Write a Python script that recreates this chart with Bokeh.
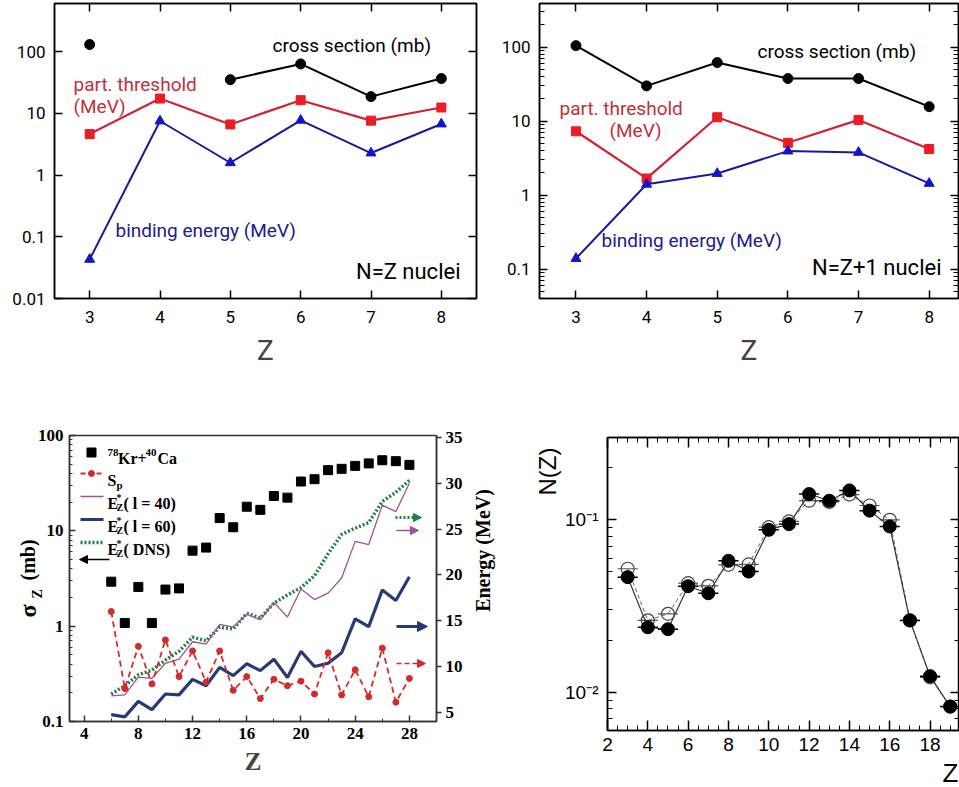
import math
from bokeh.plotting import figure
from bokeh.layouts import column, row
from bokeh.core.properties import value
from bokeh.models import (Range1d, LinearAxis, LogAxis, LinearScale, FixedTicker,
                          Label, Arrow, NormalHead)
from bokeh.embed import file_html
from bokeh.resources import INLINE

nan = float("nan")

# ---------------- N=Z nuclei ----------------
z_light = [3, 4, 5, 6, 7, 8]
nz_cross_mb = [130, nan, 35, 63, 18.6, 36.5]
nz_threshold_mev = [4.6, 17.3, 6.6, 16.3, 7.6, 12.4]
nz_binding_mev = [0.043, 7.5, 1.58, 7.7, 2.27, 6.7]

# ---------------- N=Z+1 nuclei ----------------
nz1_cross_mb = [105, 30, 62, 37.7, 37.7, 15.7]
nz1_threshold_mev = [7.3, 1.68, 11.3, 5.1, 10.4, 4.2]
nz1_binding_mev = [0.139, 1.40, 1.96, 3.94, 3.78, 1.44]

# ---------------- 78Kr + 40Ca ----------------
z_kr = list(range(6, 29))
sigma_z_mb = [2.93, 1.08, 2.58, 1.08, 2.42, 2.49, 6.2, 6.67, 13.6, 10.9, 17.9, 16.6,
              23.2, 22.3, 32.9, 34.8, 43.3, 44.7, 48, 51, 55, 53.8, 49.2]
sp_mev = [16.0, 7.6, 12.2, 8.1, 12.9, 8.9, 11.7, 8.3, 11.7, 7.4, 8.9, 6.5,
          8.6, 7.9, 8.4, 7.0, 11.5, 6.9, 9.65, 6.7, 12.0, 6.1, 8.7]
ex_l40_mev = [6.8, 6.9, 8.85, 8.7, 10.35, 10.8, 12.7, 12.45, 14.6, 14.3, 15.7, 15.1,
              17.0, 15.4, 18.45, 17.3, 18.0, 19.65, 23.65, 23.3, 27.6, 26.9, 30.0]
ex_l60_mev = [4.75, 4.5, 6.2, 5.3, 7.0, 6.9, 8.6, 7.9, 9.9, 9.0, 10.3, 9.55,
              10.8, 8.8, 11.65, 10.0, 10.35, 11.5, 15.2, 14.35, 18.35, 17.2, 19.8]
ex_dns_mev = [7.0, 7.9, 9.1, 9.6, 10.7, 11.65, 13.2, 12.8, 14.3, 14.1, 15.8, 15.3,
              16.9, 17.8, 18.6, 19.9, 22.3, 24.4, 25.1, 25.7, 28.0, 29.0, 30.3]

# ---------------- N(Z) distribution ----------------
z_dist = list(range(3, 20))
nz_filled = [0.0465, 0.0238, 0.0232, 0.0412, 0.0375, 0.0578, 0.0501, 0.0875, 0.0944,
             0.141, 0.129, 0.148, 0.113, 0.0915, 0.0261, 0.0124, 0.00826]
nz_open = [0.052, 0.0261, 0.0285, 0.0429, 0.0414, 0.0548, 0.0551, 0.0906, 0.0978,
           0.129, 0.127, 0.140, 0.121, 0.100, 0.0261, 0.0122, 0.00826]

# ---------------- ticks ----------------
decade_ticks = [0.01, 0.1, 1, 10, 100]
decade_labels = ["0.01", "0.1", "1", "10", "100"]
kr_sigma_ticks = [0.1, 1, 10, 100]
kr_sigma_labels = ["0.1", "1", "10", "100"]
kr_z_ticks = [4, 8, 12, 16, 20, 24, 28]
kr_energy_ticks = [5, 10, 15, 20, 25, 30, 35]
dist_z_ticks = [2, 4, 6, 8, 10, 12, 14, 16, 18]
dist_y_ticks = [0.01, 0.1]
dist_y_labels = ["10\u207b\u00b2", "10\u207b\u00b9"]

SANS = "Roboto"
SERIF = "Liberation Serif"
ARIAL = "Liberation Sans"


def log_minor(lo, hi):
    out = []
    for k in range(-4, 4):
        for m in range(2, 10):
            v = m * 10.0 ** k
            if lo <= v <= hi:
                out.append(v)
    return out


def style(ax, font, size, bold=False, tick_in=7, tick_out=0, minor_in=0, minor_out=0,
          standoff=8, labels=True, color="black", lw=1.5):
    ax.axis_line_color = color
    ax.axis_line_width = lw
    ax.major_tick_line_color = color
    ax.major_tick_line_width = lw
    ax.minor_tick_line_color = color if (minor_in or minor_out) else None
    ax.minor_tick_line_width = 1
    ax.major_tick_in = tick_in
    ax.major_tick_out = tick_out
    ax.minor_tick_in = minor_in
    ax.minor_tick_out = minor_out
    ax.major_label_text_font = font
    ax.major_label_text_font_style = "bold" if bold else "normal"
    if labels:
        ax.major_label_text_color = "black"
        ax.major_label_text_font_size = f"{size}px"
        ax.major_label_standoff = standoff
    else:
        # tick-only axis: labels are not painted
        ax.major_label_text_color = None
        ax.major_label_text_font_size = "1px"
        ax.major_label_standoff = 0
        ax.axis_label = None


def mapper(left, top, width, height, xr, yr, ylog):
    """Pixel position on the page -> data coordinates of a frame."""
    def fx(px):
        return xr[0] + (px - left) / width * (xr[1] - xr[0])

    def fy(py):
        t = (top + height - py) / height
        if ylog:
            a, b = math.log10(yr[0]), math.log10(yr[1])
            return 10 ** (a + t * (b - a))
        return yr[0] + t * (yr[1] - yr[0])
    return fx, fy


def put(p, text, x, y, font, size, color="black", bold=False, align="left",
        baseline="middle", angle=0.0, y_range_name="default"):
    p.add_layout(Label(x=x, y=y, text=text, text_font=font, text_font_size=f"{size}px",
                       text_color=color, text_font_style="bold" if bold else "normal",
                       text_align=align, text_baseline=baseline, angle=angle,
                       y_range_name=y_range_name))


def margin_text(p, text, x, y, font, size, color="black", bold=False, align="left",
                angle=0.0, y_range_name="default"):
    """Text that sits in the plot margin (drawn on the overlay level)."""
    p.text(x=[x], y=[y], text=[text], angle=angle, text_font=value(font),
           text_font_size=value(f"{size}px"),
           text_font_style="bold" if bold else "normal", text_color=color,
           text_align=align, text_baseline="middle", level="overlay",
           y_range_name=y_range_name)


def base_fig(width, height, xr, yr, left, right, top, bottom, **kw):
    p = figure(width=width, height=height, x_range=Range1d(*xr), y_range=Range1d(*yr),
               y_axis_type="log", output_backend="svg", toolbar_location=None,
               min_border_left=left, min_border_right=right, min_border_top=top,
               min_border_bottom=bottom, background_fill_color="white",
               border_fill_color="white", outline_line_color="black",
               outline_line_width=1.5, **kw)
    p.grid.visible = False
    return p


RED_LINE = "#cf2433"
RED_MARK = "#ec1c24"
RED_TEXT = "#c0303c"
BLUE_LINE = "#1a1a96"
BLUE_MARK = "#1414c8"
BLUE_TEXT = "#20208a"


def light_panel(width, left, right, xr, yr, cross, thr, bind, minor):
    p = base_fig(width, 380, xr, yr, left, right, 3, 82)
    bottom_ax = p.below[0]
    left_ax = p.left[0]
    bottom_ax.ticker = FixedTicker(ticks=z_light)
    style(bottom_ax, SANS, 17, tick_in=8, standoff=12)
    bottom_ax.axis_label = "Z"
    bottom_ax.axis_label_text_font = SANS
    bottom_ax.axis_label_text_font_size = "28px"
    bottom_ax.axis_label_text_font_style = "normal"
    bottom_ax.axis_label_standoff = 8
    minors = log_minor(*yr) if minor else []
    left_ax.ticker = FixedTicker(ticks=decade_ticks, minor_ticks=minors)
    left_ax.major_label_overrides = dict(zip(decade_ticks, decade_labels))
    style(left_ax, SANS, 17, tick_in=8, minor_in=5 if minor else 0, standoff=9)

    top_ax = LinearAxis(ticker=FixedTicker(ticks=z_light))
    style(top_ax, SANS, 1, tick_in=8, labels=False)
    p.add_layout(top_ax, "above")
    right_ax = LogAxis(ticker=FixedTicker(ticks=decade_ticks, minor_ticks=minors))
    style(right_ax, SANS, 1, tick_in=8, minor_in=5 if minor else 0, labels=False)
    p.add_layout(right_ax, "right")

    p.line(z_light, cross, color="black", line_width=2)
    p.scatter(z_light, cross, marker="circle", size=10, color="black")
    p.line(z_light, thr, color=RED_LINE, line_width=2.2)
    p.scatter(z_light, thr, marker="square", size=9, color=RED_MARK)
    p.line(z_light, bind, color=BLUE_LINE, line_width=2)
    p.scatter(z_light, bind, marker="triangle", size=10, color=BLUE_MARK)
    return p


# -------- upper left --------
p1 = light_panel(480, 54, 4, (2.5, 8.5), (0.01, 600), nz_cross_mb, nz_threshold_mev,
                 nz_binding_mev, False)
fx, fy = mapper(54, 3, 422, 295, (2.5, 8.5), (0.01, 600), True)
put(p1, "cross section (mb)", fx(272), fy(45), SANS, 19)
put(p1, "part. threshold", fx(73), fy(84), SANS, 19, color=RED_TEXT)
put(p1, "(MeV)", fx(73), fy(106), SANS, 19, color=RED_TEXT)
put(p1, "binding energy (MeV)", fx(115), fy(230), SANS, 19, color=BLUE_TEXT)
put(p1, "N=Z nuclei", fx(460), fy(271), SANS, 22, align="right")

# -------- upper right --------
xr2, yr2 = (2.484, 8.415), (0.04, 390)
p2 = light_panel(479, 59, 1, xr2, yr2, nz1_cross_mb, nz1_threshold_mev,
                 nz1_binding_mev, True)
fx, fy = mapper(539, 3, 419, 295, xr2, yr2, True)
put(p2, "cross section (mb)", fx(757), fy(51), SANS, 19)
put(p2, "part. threshold", fx(559), fy(108), SANS, 19, color=RED_TEXT)
put(p2, "(MeV)", fx(609), fy(130), SANS, 19, color=RED_TEXT)
put(p2, "binding energy (MeV)", fx(601), fy(240), SANS, 19, color=BLUE_TEXT)
put(p2, "N=Z+1 nuclei", fx(941), fy(267), SANS, 22, align="right")

# -------- lower left: 78Kr + 40Ca --------
xr3, yr3, er3 = (2.92, 30.0), (0.1, 100), (4.0, 35.2)
p3 = base_fig(500, 407, xr3, yr3, 69, 64, 55, 66,
              extra_y_ranges={"energy": Range1d(*er3)},
              extra_y_scales={"energy": LinearScale()})
p3.outline_line_color = "#333333"
ax = p3.below[0]
ax.ticker = FixedTicker(ticks=kr_z_ticks, minor_ticks=list(range(4, 30, 2)))
style(ax, SERIF, 17, bold=True, tick_in=6, minor_in=3, standoff=6, color="#333333")
ax.axis_label = "Z"
ax.axis_label_text_font = SERIF
ax.axis_label_text_font_size = "25px"
ax.axis_label_text_font_style = "bold"
ax.axis_label_standoff = 6
ax = p3.left[0]
ax.ticker = FixedTicker(ticks=kr_sigma_ticks, minor_ticks=log_minor(*yr3))
ax.major_label_overrides = dict(zip(kr_sigma_ticks, kr_sigma_labels))
style(ax, SERIF, 17, bold=True, tick_in=6, minor_in=3, standoff=6, color="#333333")
eax = LinearAxis(y_range_name="energy", ticker=FixedTicker(ticks=kr_energy_ticks))
style(eax, SERIF, 17, bold=True, tick_in=0, tick_out=5, standoff=4, color="#333333")
p3.add_layout(eax, "right")

RED3 = "#d42a2a"
PURPLE3 = "#a0509c"
NAVY3 = "#263a78"
GREEN3 = "#1f8040"

p3.scatter(z_kr, sigma_z_mb, marker="square", size=9, color="black")
p3.line(z_kr, ex_dns_mev, y_range_name="energy", color=GREEN3, line_width=3.5,
        line_dash="2 2")
p3.line(z_kr, ex_l40_mev, y_range_name="energy", color=PURPLE3, line_width=1.3)
p3.line(z_kr, ex_l60_mev, y_range_name="energy", color=NAVY3, line_width=3.2)
p3.line(z_kr, sp_mev, y_range_name="energy", color=RED3, line_width=1.8, line_dash="6 4")
p3.scatter(z_kr, sp_mev, y_range_name="energy", marker="circle", size=6, color=RED3)

kx, ke = mapper(69, 435, 367, 286, xr3, er3, False)
E = "energy"
# legend keys
p3.scatter([kx(91)], [ke(452)], y_range_name=E, marker="square", size=9, color="black")
p3.line([kx(80), kx(103)], [ke(473), ke(473)], y_range_name=E, color=RED3,
        line_width=1.8, line_dash="5 3")
p3.scatter([kx(91)], [ke(473)], y_range_name=E, marker="circle", size=6, color=RED3)
p3.line([kx(80), kx(103)], [ke(496), ke(496)], y_range_name=E, color=PURPLE3, line_width=1.3)
p3.line([kx(80), kx(103)], [ke(519), ke(519)], y_range_name=E, color=NAVY3, line_width=3.2)
p3.line([kx(80), kx(103)], [ke(542), ke(542)], y_range_name=E, color=GREEN3,
        line_width=3.5, line_dash="2 2")

# legend texts
B = dict(bold=True, baseline="alphabetic", y_range_name=E)
put(p3, "78", kx(107), ke(452), SERIF, 11, **B)
put(p3, "Kr+", kx(117.5), ke(458), SERIF, 16, **B)
put(p3, "40", kx(145), ke(452), SERIF, 11, **B)
put(p3, "Ca", kx(157), ke(458), SERIF, 16, **B)
put(p3, "S", kx(107), ke(480), SERIF, 16, **B)
put(p3, "p", kx(116), ke(484), SERIF, 11, **B)
for by, tail in ((503, "( l = 40)"), (526, "( l = 60)"), (549, "( DNS)")):
    put(p3, "E", kx(107), ke(by), SERIF, 16, **B)
    put(p3, "*", kx(116), ke(by - 6), SERIF, 10, **B)
    put(p3, "Z", kx(116), ke(by + 4), SERIF, 10, **B)
    put(p3, tail, kx(123), ke(by), SERIF, 16, **B)

# axis titles in the margins
R = math.pi / 2
margin_text(p3, "\u03c3", kx(27), ke(617), SERIF, 24, bold=True, angle=R, y_range_name=E)
margin_text(p3, "Z", kx(37), ke(598), SERIF, 14, bold=True, angle=R, y_range_name=E)
margin_text(p3, "(mb)", kx(27), ke(580), SERIF, 20, bold=True, angle=R, y_range_name=E)
margin_text(p3, "Energy (MeV)", kx(482), ke(550), SERIF, 20, bold=True, align="center",
            angle=R, y_range_name=E)


# axis pointers
def pointer(x0, x1, y, color, width, dash="solid", size=8):
    p3.add_layout(Arrow(x_start=kx(x0), y_start=ke(y), x_end=kx(x1), y_end=ke(y),
                        y_range_name=E, line_color=color, line_width=width, line_dash=dash,
                        end=NormalHead(size=size, fill_color=color, line_color=color,
                                       line_width=1)))


pointer(109, 79, 559, "black", 1.5)
pointer(395, 421, 517, GREEN3, 3, "2 2")
pointer(396, 418, 530, PURPLE3, 1.5)
pointer(396, 427, 626, NAVY3, 3, size=10)
pointer(396, 425, 663, RED3, 1.5, "5 3")

# -------- lower right: N(Z) --------
xr4, yr4 = (2.0, 19.46), (0.006, 0.30)
p4 = base_fig(459, 407, xr4, yr4, 107, 0, 57, 57)
half_steps = [2 + 0.5 * i for i in range(36)]
ax = p4.below[0]
ax.ticker = FixedTicker(ticks=dist_z_ticks, minor_ticks=half_steps)
style(ax, ARIAL, 19, tick_in=10, minor_in=5, standoff=7)
ax = p4.left[0]
ax.ticker = FixedTicker(ticks=dist_y_ticks, minor_ticks=log_minor(*yr4))
ax.major_label_overrides = dict(zip(dist_y_ticks, dist_y_labels))
style(ax, ARIAL, 19, tick_in=9, minor_in=5, standoff=9)
top4 = LinearAxis(ticker=FixedTicker(ticks=dist_z_ticks, minor_ticks=half_steps))
style(top4, ARIAL, 1, tick_in=10, minor_in=5, labels=False)
p4.add_layout(top4, "above")
right4 = LogAxis(ticker=FixedTicker(ticks=dist_y_ticks, minor_ticks=log_minor(*yr4)))
style(right4, ARIAL, 1, tick_in=9, minor_in=5, labels=False)
p4.add_layout(right4, "right")

z_lo = [z - 0.5 for z in z_dist]
z_hi = [z + 0.5 for z in z_dist]
p4.segment(z_lo, nz_open, z_hi, nz_open, color="#555555", line_width=1.2)
p4.segment(z_lo, nz_filled, z_hi, nz_filled, color="black", line_width=1.5)
p4.line(z_dist, nz_open, color="#666666", line_width=1, line_dash="4 3")
p4.line(z_dist, nz_filled, color="#333333", line_width=1.2)
p4.scatter(z_dist, nz_open, marker="circle", size=13, fill_color=None,
           line_color="#444444", line_width=1.2)
p4.scatter(z_dist, nz_filled, marker="circle", size=13, color="black")

gx, gy = mapper(607, 437, 352, 293, xr4, yr4, True)
margin_text(p4, "N(Z)", gx(547), gy(495), ARIAL, 24, angle=R)
margin_text(p4, "Z", gx(958), gy(772), ARIAL, 26, align="right")

layout = column(row(p1, p2), row(p3, column(p4)))
open("out.html", "w").write(file_html(layout, INLINE))
